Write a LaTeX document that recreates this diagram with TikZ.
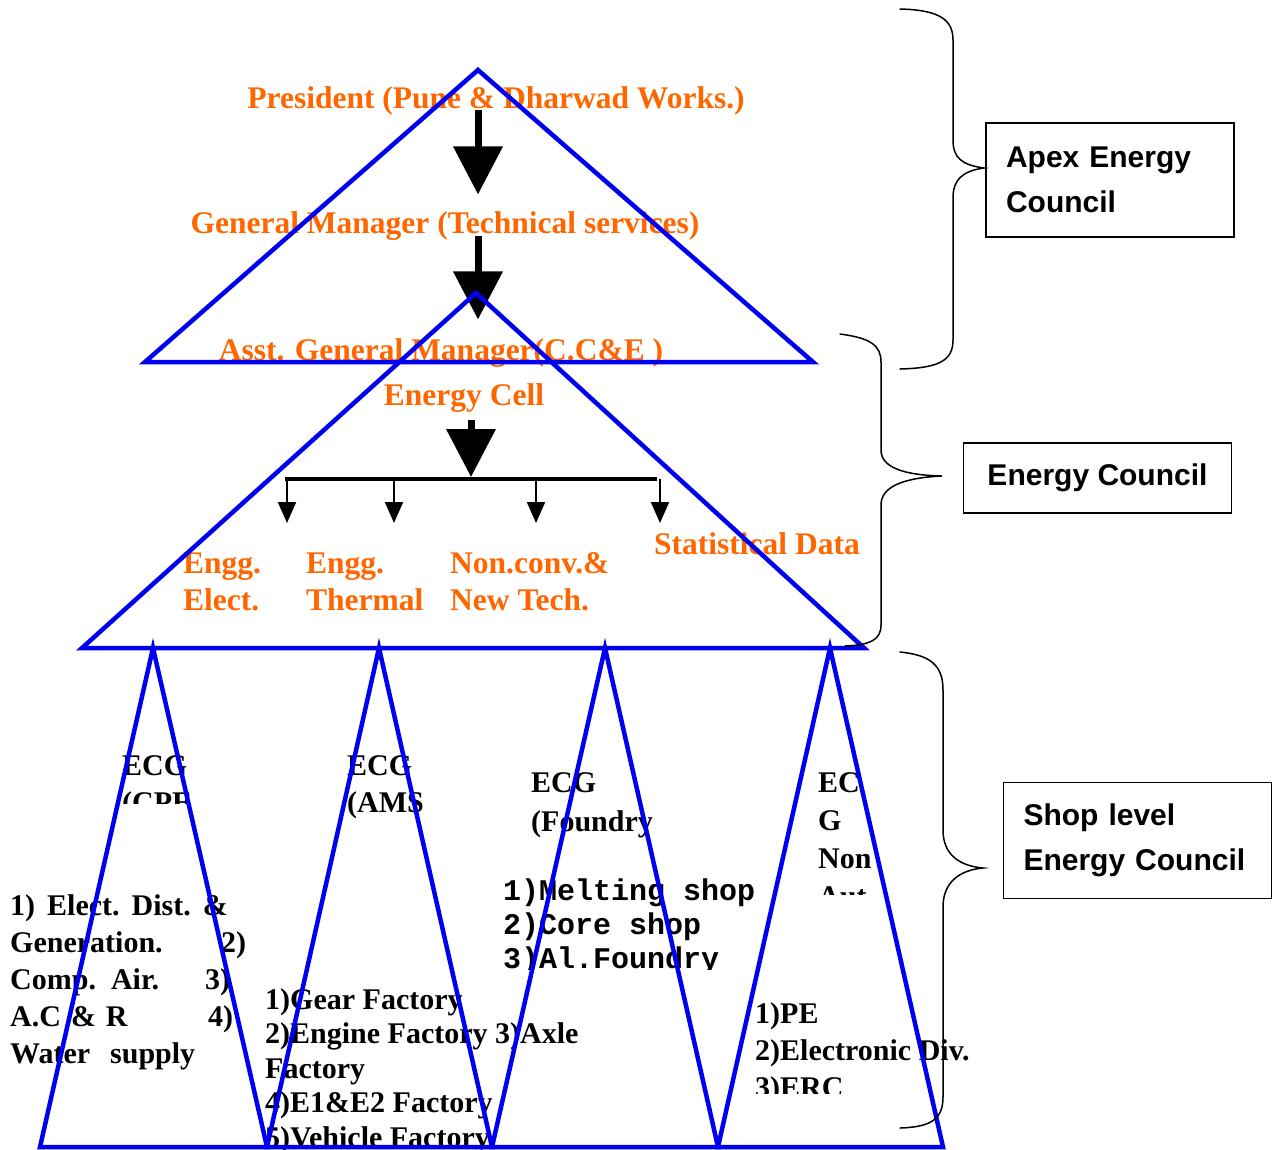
\documentclass[tikz,border=0pt]{standalone}
\usepackage{fontspec}
\setmainfont{Liberation Serif}
\setmonofont{Liberation Mono}
\newfontfamily\councilfont{Liberation Sans}
\usepackage{tikz}
\usetikzlibrary{arrows.meta}

\definecolor{cellorange}{HTML}{FF6600}
\definecolor{triblue}{HTML}{0000F0}

\tikzset{
  tri/.style={draw=triblue, line width=4.5pt, line join=miter},
  post/.style={text=cellorange, font=\fontsize{31.5}{37}\selectfont\bfseries, inner sep=0pt, anchor=base},
  unit/.style={font=\fontsize{30}{37}\selectfont\bfseries, inner sep=0pt, align=left, anchor=base west},
  shoplist/.style={font=\fontsize{30}{34}\selectfont\ttfamily\bfseries, inner sep=0pt, align=left, anchor=base west},
  council/.style={draw, line width=1.5pt, font=\fontsize{30}{45}\selectfont\councilfont\bfseries, align=left, inner xsep=20pt, inner ysep=0pt},
  bigarrow/.style={line width=7pt, -{Triangle[width=48pt,length=48pt]}},
  tinyarrow/.style={line width=2pt, -{Triangle[width=18pt,length=21pt]}},
  brace/.style={line width=1.5pt, line cap=round}
}

\begin{document}
\begin{tikzpicture}[x=1pt, y=-1pt]
\useasboundingbox (0,0) rectangle (1277,1149);

% apexes of the triangles
\coordinate (t1) at (478,70);
\coordinate (t2) at (476,293);
\coordinate (bar) at (471,479);
\coordinate (barL) at (285,479);
\coordinate (barR) at (657,479);

% apex and energy council posts (multi-line nodes sit on their last baseline)
\node[post] (pres) at (496,108) {President (Pune \& Dharwad Works.)};
\node[post] (gm) at (445,233) {General Manager (Technical services)};
\node[post] (agm) at (441,360) {Asst. General Manager(C.C\&E )};
\node[post] (cell) at (464,405) {Energy Cell};
\node[post, anchor=base west, align=left] (elect) at (183,610) {Engg.\\Elect.};
\node[post, anchor=base west, align=left] (therm) at (306,610) {Engg.\\Thermal};
\node[post, anchor=base west, align=left] (nonconv) at (450,610) {Non.conv.\&\\New Tech.};
\node[post, anchor=base west] (stat) at (654,554) {Statistical Data};

% shop level groups
\begin{scope}
  \clip (0,0) rectangle (1277,803);
  \node[unit, font=\fontsize{30}{37.5}\selectfont\bfseries] (cpe) at (122,812.5) {ECG\\(CPE};
\end{scope}
\node[unit, font=\fontsize{30}{37.5}\selectfont\bfseries] (ams) at (347,812.5) {ECG\\(AMS};
\node[unit, font=\fontsize{30}{39.5}\selectfont\bfseries] (fdy) at (531,831.5) {ECG\\(Foundry};
\begin{scope}
  \clip (0,0) rectangle (1277,894);
  \node[unit, font=\fontsize{30}{38}\selectfont\bfseries] (non) at (818,906) {EC\\G\\Non\\Aut};
\end{scope}

% with a text width the node sits on its first baseline
\node[unit, text width=236pt] (cpelist) at (10,915)
  {1)\hspace{12pt}Elect.\hspace{12pt}Dist.\hspace{12pt}\&\\
   Generation.\hfill 2)\\
   Comp. Air.\hfill 3)\rule{16pt}{0pt}\\
   A.C \& R\hfill 4)\rule{13pt}{0pt}\\
   Water~~supply};
\node[unit, font=\fontsize{30}{34.5}\selectfont\bfseries] (amslist) at (265,1147)
  {1)Gear Factory\\2)Engine Factory 3)Axle\\Factory\\4)E1\&E2 Factory\\5)Vehicle Factory};
\begin{scope}
  \clip (0,0) rectangle (1277,969);
  \node[shoplist] (fdylist) at (503,968) {1)Melting shop\\2)Core shop\\3)Al.Foundry};
\end{scope}
\begin{scope}
  \clip (0,0) rectangle (1277,1093);
  \node[unit] (nonlist) at (755,1097) {1)PE\\2)Electronic Div.\\3)ERC};
\end{scope}

% reporting arrows
\draw[bigarrow, shorten <=2pt, shorten >=16.5pt] (pres.base -| t1) -- (gm.north -| t1);
\draw[bigarrow, shorten <=3pt, shorten >=18.5pt] (gm.base -| t1) -- (agm.north -| t1);
\draw[bigarrow, shorten <=15pt, shorten >=2pt] (cell.base -| bar) -- (bar);
\draw[line width=4.5pt] (barL) -- (barR);
\foreach \x in {287,394,536,660}
  \draw[tinyarrow] (\x,479) -- (\x,523);

% council pyramids
\draw[tri] (t1) -- (145,362) -- (813,362) -- cycle;
\draw[tri] (t2) -- (82,648) -- (864,648) -- cycle;
\foreach \a/\l/\r in {153/40/267, 379/267/492, 605/492/718, 830/718/943}
  \draw[tri] (\a,648) -- (\r,1147) -- (\l,1147) -- cycle;

% braces
\draw[brace] (900,9) .. controls (940,10) and (953,20) .. (953,40) -- (953,140)
  .. controls (953,158) and (962,165) .. (984,168)
  .. controls (962,171) and (953,180) .. (953,198) -- (953,340)
  .. controls (953,360) and (940,368) .. (900,369);
\draw[brace] (840,334) .. controls (870,338) and (881,345) .. (881,362) -- (881,450)
  .. controls (881,466) and (900,475) .. (942,476)
  .. controls (900,478) and (881,488) .. (881,505) -- (881,625)
  .. controls (881,640) and (870,645) .. (845,646);
\draw[brace] (900,652) .. controls (930,655) and (943,665) .. (943,690) -- (943,830)
  .. controls (943,855) and (960,866) .. (983,868)
  .. controls (960,870) and (943,882) .. (943,907) -- (943,1097)
  .. controls (943,1120) and (930,1127) .. (900,1128);

% council boxes
\node[council, text width=208pt, minimum height=114pt] (apex) at (1110,180) {Apex Energy\\Council};
\node[council, align=center, minimum width=268pt, minimum height=70pt] (ec) at (1097.5,478) {Energy Council};
\node[council, text width=228pt, minimum height=116pt] (shop) at (1137.5,840.5) {Shop level\\Energy Council};
\end{tikzpicture}
\end{document}
